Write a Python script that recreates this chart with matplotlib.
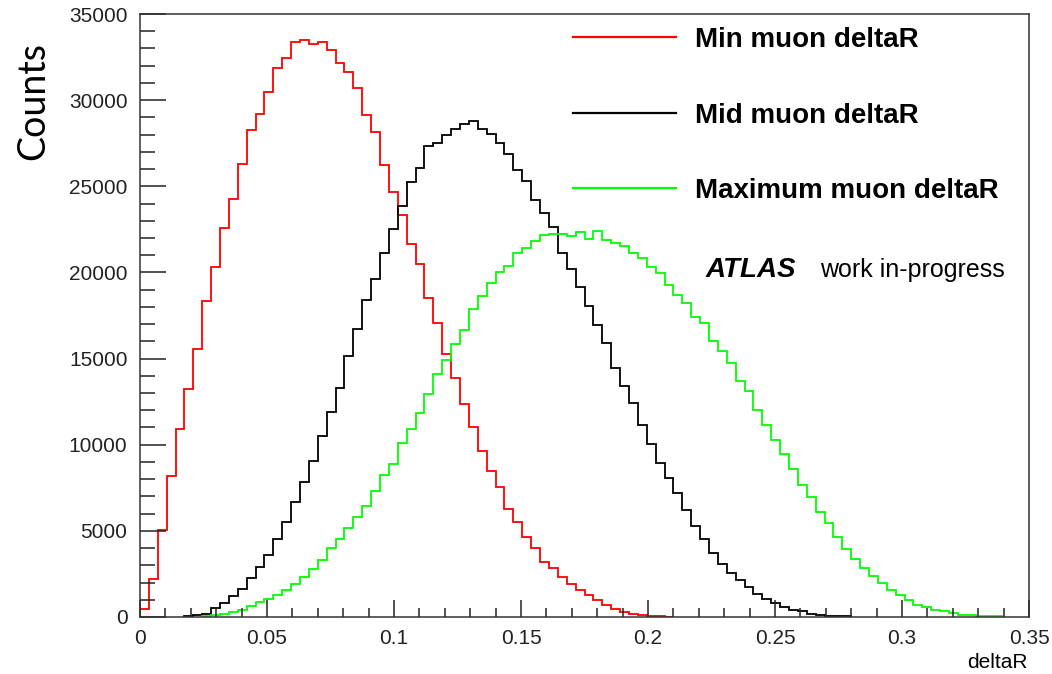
import numpy as np
import matplotlib.pyplot as plt
from matplotlib.lines import Line2D
from matplotlib.ticker import MultipleLocator, FuncFormatter

plt.rcParams['font.family'] = ['Liberation Sans', 'DejaVu Sans']

# 100 bins between 0 and 0.35
nbins = 100
xlo, xhi = 0.0, 0.35

# counts per bin, starting at bin index *_first
min_first = 0
min_counts = [487, 2178, 5049, 8213, 10932, 13238, 15540, 18346, 20326, 22598,
              24269, 26267, 28247, 29179, 30483, 31881, 32423, 33390, 33500, 33260,
              33400, 32906, 32171, 31607, 30716, 29121, 28170, 26240, 24650, 23340,
              21670, 20480, 18520, 17050, 15285, 13870, 12380, 11006, 9610, 8486,
              7534, 6253, 5533, 4624, 3983, 3204, 2854, 2330, 1905, 1555,
              1264, 973, 720, 487, 291, 155, 97, 40, 30, 20]

mid_first = 5
mid_counts = [58, 97, 194, 544, 816, 1204, 1650, 2291, 2874, 3592,
              4524, 5533, 6662, 7826, 9068, 10524, 11910, 13320, 15165, 16738,
              18400, 19610, 21106, 22522, 23880, 25220, 26036, 27340, 27531, 27997,
              28346, 28637, 28792, 28346, 28055, 27531, 26890, 25958, 25335, 24210,
              23436, 22621, 21125, 20192, 19161, 18054, 16970, 15923, 14450, 13420,
              12440, 11165, 10058, 8960, 8090, 7223, 6195, 5310, 4508, 3728,
              3069, 2563, 2137, 1747, 1320, 1068, 816, 582, 427, 330,
              194, 116, 40, 40, 40]

max_first = 7
max_counts = [39, 97, 194, 291, 427, 621, 874, 1068, 1301, 1592,
              1941, 2330, 2815, 3301, 3980, 4524, 5185, 5810, 6470, 7300,
              8220, 8890, 10100, 10910, 11830, 12960, 14085, 14920, 15830, 16680,
              17875, 18638, 19360, 20020, 20400, 21120, 21415, 21850, 22145, 22250,
              22220, 22095, 22335, 21940, 22423, 21860, 21707, 21530, 21145, 20833,
              20291, 19959, 19278, 18696, 18212, 17417, 17047, 16016, 15434, 14718,
              13687, 13104, 12039, 11165, 10270, 9438, 8585, 7670, 6989, 6115,
              5440, 4659, 3925, 3343, 2819, 2370, 1945, 1555, 1264, 973,
              720, 582, 427, 330, 233, 136, 136, 58, 58, 58]

labels = ['Min muon deltaR', 'Mid muon deltaR', 'Maximum muon deltaR']
colors = ['#ff0000', '#000000', '#00ff00']

edges = np.linspace(xlo, xhi, nbins + 1)

fig = plt.figure(figsize=(10.52, 6.74), dpi=100)
ax = fig.add_axes([140 / 1052, 1 - 617 / 674, 889 / 1052, 603 / 674])

for first, counts, col in zip([min_first, mid_first, max_first],
                              [min_counts, mid_counts, max_counts], colors):
    e = edges[first:first + len(counts) + 1]
    ax.stairs(counts, e, color=col, lw=1.3, baseline=0)

ax.set_xlim(xlo, xhi)
ax.set_ylim(0, 35000)

ax.xaxis.set_major_locator(MultipleLocator(0.05))
ax.xaxis.set_minor_locator(MultipleLocator(0.01))
ax.yaxis.set_major_locator(MultipleLocator(5000))
ax.yaxis.set_minor_locator(MultipleLocator(1000))
ax.xaxis.set_major_formatter(FuncFormatter(lambda v, p: '%g' % round(v, 3)))
ax.yaxis.set_major_formatter(FuncFormatter(lambda v, p: '%d' % v))

ax.tick_params(axis='both', which='both', direction='in', colors='#222222',
               labelsize=15, width=1.1)
ax.tick_params(axis='y', which='major', length=19, pad=9)
ax.tick_params(axis='y', which='minor', length=11)
ax.tick_params(axis='x', which='major', length=12, pad=9)
ax.tick_params(axis='x', which='minor', length=6.5)
for s in ax.spines.values():
    s.set_color('#333333')
    s.set_linewidth(1.1)

handles = [Line2D([], [], color=c, lw=1.6) for c in colors]
leg = ax.legend(handles, labels, loc='upper left', bbox_to_anchor=(562 / 1052, 1 - 16 / 674),
                bbox_transform=fig.transFigure, frameon=False,
                prop={'size': 20, 'weight': 'bold'}, handlelength=3.7,
                handletextpad=0.7, labelspacing=1.78, borderaxespad=0)

fig.text(706 / 1052, 1 - 277 / 674, 'ATLAS', size=20, weight='bold', style='italic',
         va='baseline', ha='left')
fig.text(820 / 1052, 1 - 277 / 674, 'work in-progress', size=18, va='baseline', ha='left')

fig.text(1028 / 1052, 1 - 668 / 674, 'deltaR', size=15, ha='right', va='baseline')
fig.text(33 / 1052, 1 - 101 / 674, 'Counts', family='Lato', size=27, rotation=90,
         ha='center', va='center')

fig.savefig('out.png', dpi=100)
